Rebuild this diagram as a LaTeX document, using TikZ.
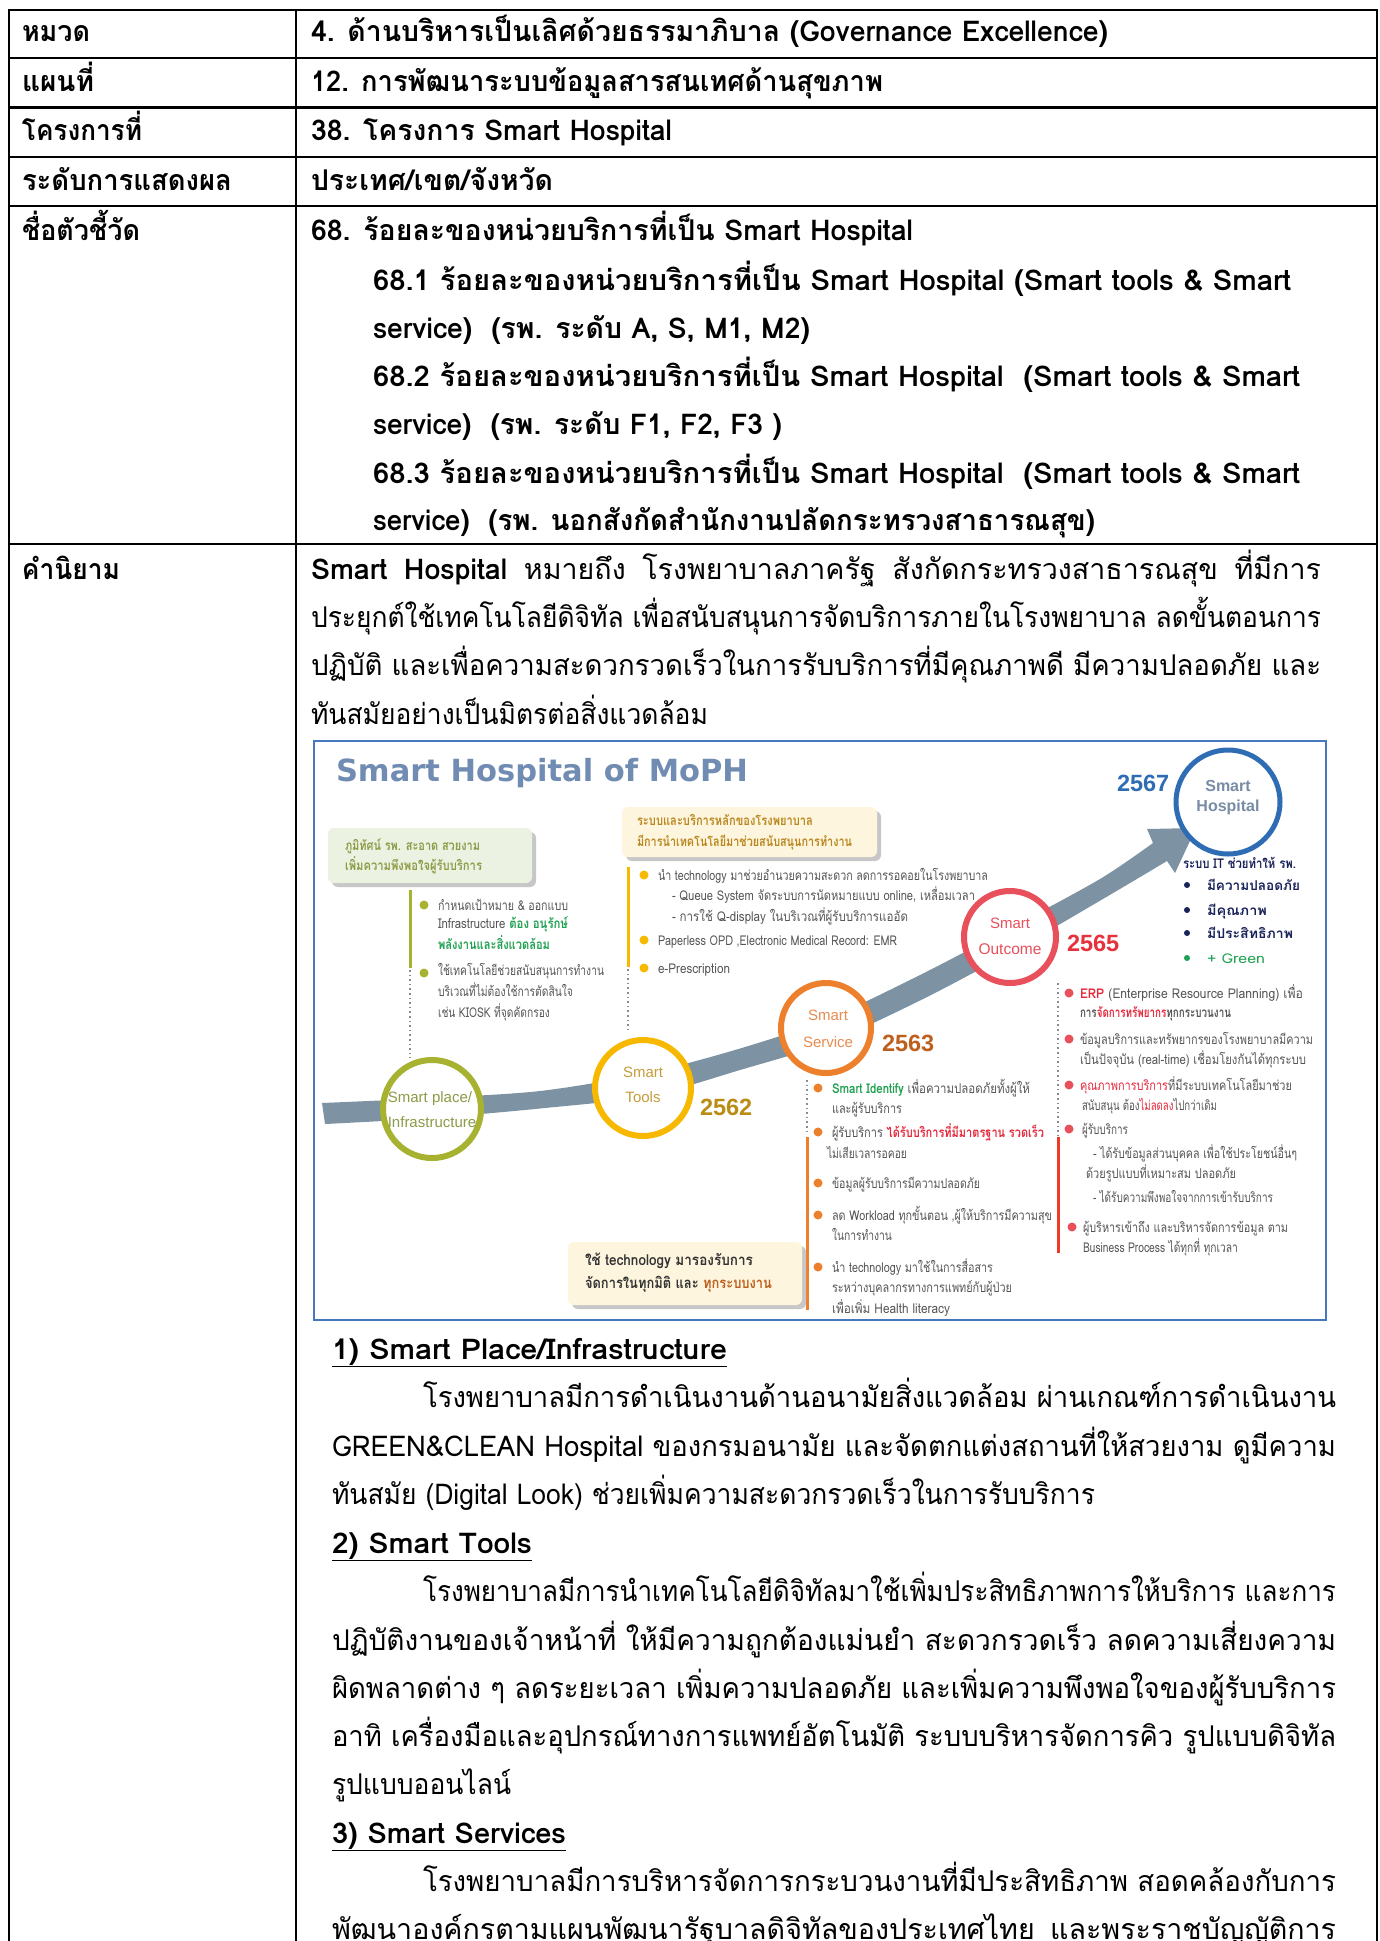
\documentclass[tikz,border=0pt]{standalone}
\usepackage{fontspec}
\usepackage{graphicx}
\setmainfont[Script=Thai]{Loma}
\newfontfamily\latf{Liberation Sans}
\newfontfamily\titf{DejaVu Sans}
\definecolor{olivering}{RGB}{166,178,48}
\definecolor{olivetxt}{RGB}{140,155,70}
\definecolor{greenbox}{RGB}{236,242,226}
\definecolor{yellowbox}{RGB}{253,245,222}
\definecolor{goldring}{RGB}{247,184,0}
\definecolor{goldtxt}{RGB}{196,158,60}
\definecolor{goldbox}{RGB}{185,135,30}
\definecolor{yrtools}{RGB}{185,140,20}
\definecolor{orring}{RGB}{236,128,44}
\definecolor{ortxt}{RGB}{232,140,80}
\definecolor{yrserv}{RGB}{190,95,30}
\definecolor{redring}{RGB}{232,80,92}
\definecolor{yrout}{RGB}{230,50,60}
\definecolor{redline}{RGB}{236,60,40}
\definecolor{blring}{RGB}{46,109,180}
\definecolor{hosptxt}{RGB}{120,140,165}
\definecolor{bandc}{RGB}{125,146,162}
\definecolor{igray}{RGB}{85,85,85}
\definecolor{ired}{RGB}{230,40,60}
\definecolor{igreen}{RGB}{30,160,80}
\definecolor{navy}{RGB}{25,35,90}
\definecolor{titleblue}{RGB}{112,140,178}
\definecolor{boxblue}{RGB}{70,120,190}
\newcommand\mfs{\fontsize{28.6}{31}\selectfont}
\newcommand\ifs{\fontsize{13.5}{15}\selectfont}
% fixed width (horizontal scaling only)
\newcommand\fw[2]{\resizebox{#1pt}{\height}{#2}}
% justified line: stretch spaces, or compress if too long
\newsavebox\linebx
\newcommand\jl[2]{\sbox\linebx{#2}\ifdim\wd\linebx>#1pt\relax\resizebox{#1pt}{\height}{\usebox\linebx}\else\makebox[#1pt][s]{#2}\fi}
\begin{document}
\begin{tikzpicture}[x=1pt,y=-1pt,
  tx/.style={anchor=base west,inner sep=0pt,outer sep=0pt},
  txc/.style={anchor=base,inner sep=0pt,outer sep=0pt},
  mt/.style={tx,font=\mfs},
  mb/.style={tx,font=\mfs\bfseries},
  it/.style={tx,font=\ifs,text=igray},
  tbl/.style={line width=2.4pt,black},
  dotl/.style={line width=1.6pt,black!45,dash pattern=on 1.6pt off 3pt},
  ring/.style={circle,fill=white,line width=6pt,inner sep=0pt},
  clab/.style={txc,font=\latf\fontsize{15}{15}\selectfont},
  yr/.style={tx,font=\latf\bfseries\fontsize{23.5}{24}\selectfont}]
\useasboundingbox (0,0) rectangle (1380,1941);
\fill[white] (0,0) rectangle (1380,1941);
\clip (0,0) rectangle (1380,1941);
% ---------- table ----------
\draw[tbl] (9,10) -- (1377,10);
\draw[tbl] (9,58) -- (1377,58);
\draw[tbl] (9,107.5) -- (1377,107.5);
\draw[tbl] (9,157) -- (1377,157);
\draw[tbl] (9,206) -- (1377,206);
\draw[tbl] (9,544) -- (1377,544);
\draw[tbl] (9,9) -- (9,1945);
\draw[tbl] (296,9) -- (296,1945);
\draw[tbl] (1377,9) -- (1377,1945);
% left column
\node[mb] (l1) at (22,41) {\fw{68}{หมวด}};
\node[mb] (l2) at (22,91) {\fw{72}{แผนที่}};
\node[mb] (l3) at (22,140) {\fw{120}{โครงการที่}};
\node[mb] (l4) at (22,190) {\fw{210}{ระดับการแสดงผล}};
\node[mb] (l5) at (22,240) {\fw{118}{ชื่อตัวชี้วัด}};
\node[mb] (l6) at (22,579) {\fw{98}{คำนิยาม}};
% right column rows
\node[mb] (r1) at (311,41) {\fw{797}{4. ด้านบริหารเป็นเลิศด้วยธรรมาภิบาล (Governance Excellence)}};
\node[mb] (r2) at (311,91) {\fw{572}{12. การพัฒนาระบบข้อมูลสารสนเทศด้านสุขภาพ}};
\node[mb] (r3) at (311,140) {\fw{361}{38. โครงการ Smart Hospital}};
\node[mb] (r4) at (311,190) {\fw{242}{ประเทศ/เขต/จังหวัด}};
\node[mb] (r5a) at (311,240) {\fw{602}{68. ร้อยละของหน่วยบริการที่เป็น Smart Hospital}};
\node[mb] (r5b) at (373,290) {\fw{918}{68.1 ร้อยละของหน่วยบริการที่เป็น Smart Hospital (Smart tools \& Smart}};
\node[mb] (r5c) at (373,338) {\fw{437}{service)~ (รพ. ระดับ A, S, M1, M2)}};
\node[mb] (r5d) at (373,386) {\fw{927}{68.2 ร้อยละของหน่วยบริการที่เป็น Smart Hospital~ (Smart tools \& Smart}};
\node[mb] (r5e) at (373,434) {\fw{409}{service)~ (รพ. ระดับ F1, F2, F3 )}};
\node[mb] (r5f) at (373,483) {\fw{927}{68.3 ร้อยละของหน่วยบริการที่เป็น Smart Hospital~ (Smart tools \& Smart}};
\node[mb] (r5g) at (373,530) {\fw{722}{service)~ (รพ. นอกสังกัดสำนักงานปลัดกระทรวงสาธารณสุข)}};
% definition
\node[mt] (d1) at (311,579) {\jl{1010}{\textbf{Smart Hospital} หมายถึง โรงพยาบาลภาครัฐ สังกัดกระทรวงสาธารณสุข ที่มีการ}};
\node[mt] (d2) at (311,627) {\jl{1010}{ประยุกต์ใช้เทคโนโลยีดิจิทัล เพื่อสนับสนุนการจัดบริการภายในโรงพยาบาล ลดขั้นตอนการ}};
\node[mt] (d3) at (311,675) {\jl{1010}{ปฏิบัติ และเพื่อความสะดวกรวดเร็วในการรับบริการที่มีคุณภาพดี มีความปลอดภัย และ}};
\node[mt] (d4) at (311,724) {\fw{397}{ทันสมัยอย่างเป็นมิตรต่อสิ่งแวดล้อม}};
% ---------- infographic ----------
\draw[boxblue,line width=2.2pt] (314,741) rectangle (1326,1320);
\node[tx,font=\titf\bfseries\fontsize{30.5}{31}\selectfont,text=titleblue] (title) at (336,781) {\fw{412}{Smart Hospital of MoPH}};
% band with arrow
\fill[bandc] plot[smooth] coordinates {(322,1103) (432,1098) (540,1091) (643,1074) (735,1050) (825,1020) (920,975) (1010,928) (1100,879) (1153,843)}
  -- (1147,829) -- (1196,828) -- (1175,873) -- (1167,861)
  -- plot[smooth] coordinates {(1167,861) (1108,896) (1015,950) (925,998) (830,1042) (740,1070) (648,1096) (545,1108) (432,1118) (325,1124)} -- cycle;
% circles
\node[ring,draw=olivering,minimum size=98pt] (cplace) at (432,1109) {};
\node[ring,draw=goldring,minimum size=96pt] (ctools) at (643,1088) {};
\node[ring,draw=orring,minimum size=90pt] (cserv) at (826,1028) {};
\node[ring,draw=redring,minimum size=92pt] (cout) at (1010,937) {};
\node[ring,draw=blring,line width=5pt,minimum size=104pt] (chosp) at (1228,802) {};
\node[clab,text=olivetxt] (lp1) at (430,1102) {Smart place/};
\node[clab,text=olivetxt] (lp2) at (432,1127) {Infrastructure};
\node[clab,text=goldtxt] (lt1) at (643,1077) {Smart};
\node[clab,text=goldtxt] (lt2) at (643,1102) {Tools};
\node[clab,text=ortxt] (ls1) at (828,1020) {Smart};
\node[clab,text=ortxt] (ls2) at (828,1047) {Service};
\node[clab,text=redring] (lo1) at (1010,928) {Smart};
\node[clab,text=redring,font=\latf\fontsize{15.5}{16}\selectfont] (lo2) at (1010,954) {Outcome};
\node[clab,text=hosptxt,font=\latf\bfseries\fontsize{16}{16}\selectfont] (lh1) at (1228,791) {Smart};
\node[clab,text=hosptxt,font=\latf\bfseries\fontsize{16}{16}\selectfont] (lh2) at (1228,811) {Hospital};
\node[yr,text=yrtools] (y62) at (700,1115) {2562};
\node[yr,text=yrserv] (y63) at (882,1051) {2563};
\node[yr,text=yrout] (y65) at (1067,951) {2565};
\node[yr,text=blring] (y67) at (1117,791) {2567};
% green box (place)
\fill[black!22,rounded corners=6pt] (332,832) rectangle (536,887);
\fill[greenbox,rounded corners=6pt] (328,828) rectangle (532,883);
\node[tx,font=\ifs\bfseries,text=olivetxt] (g1) at (345,850) {\fw{135}{ภูมิทัศน์ รพ. สะอาด สวยงาม}};
\node[tx,font=\ifs\bfseries,text=olivetxt] (g2) at (345,870) {\fw{137}{เพิ่มความพึงพอใจผู้รับบริการ}};
\draw[line width=3pt,olivering] (410,890) -- (410,968);
\draw[dotl] (410,970) -- (410,1058);
\fill[olivering] (424,905) circle (4.5);
\fill[olivering] (424,973) circle (4.5);
\node[it] (p1) at (438,910) {\fw{130}{กำหนดเป้าหมาย \& ออกแบบ}};
\node[it] (p2) at (438,928) {\fw{130}{Infrastructure \textcolor{igreen}{\bfseries ต้อง อนุรักษ์}}};
\node[it,text=igreen,font=\ifs\bfseries] (p3) at (438,949) {\fw{112}{พลังงานและสิ่งแวดล้อม}};
\node[it] (p4) at (438,975) {\fw{166}{ใช้เทคโนโลยีช่วยสนับสนุนการทำงาน}};
\node[it] (p5) at (438,996) {\fw{135}{บริเวณที่ไม่ต้องใช้การตัดสินใจ}};
\node[it] (p6) at (438,1017) {\fw{112}{เช่น KIOSK ที่จุดคัดกรอง}};
% yellow box (tools)
\fill[black!22,rounded corners=6pt] (626,811) rectangle (881,861);
\fill[yellowbox,rounded corners=6pt] (622,807) rectangle (877,857);
\node[tx,font=\ifs\bfseries,text=goldbox] (y1) at (637,825) {\fw{176}{ระบบและบริการหลักของโรงพยาบาล}};
\node[tx,font=\ifs\bfseries,text=goldbox] (y2) at (637,846) {\fw{215}{มีการนำเทคโนโลยีมาช่วยสนับสนุนการทำงาน}};
\draw[line width=3pt,goldring] (628,867) -- (628,967);
\draw[dotl] (628,969) -- (628,1033);
\fill[goldring] (644,875) circle (4.5);
\fill[goldring] (644,940) circle (4.5);
\fill[goldring] (644,968) circle (4.5);
\node[it] (t1) at (658,880) {\fw{330}{นำ technology มาช่วยอำนวยความสะดวก ลดการรอคอยในโรงพยาบาล}};
\node[it] (t2) at (672,900) {\fw{303}{- Queue System จัดระบบการนัดหมายแบบ online, เหลื่อมเวลา}};
\node[it] (t3) at (672,921) {\fw{236}{- การใช้ Q-display ในบริเวณที่ผู้รับบริการแออัด}};
\node[it] (t4) at (658,945) {\fw{239}{Paperless OPD ,Electronic Medical Record: EMR}};
\node[it] (t5) at (658,973) {\fw{72}{e-Prescription}};
% service column
\draw[dotl] (807,1080) -- (807,1135);
\draw[line width=3pt,orring] (807,1137) -- (807,1310);
\fill[orring] (818,1088) circle (4.5);
\fill[orring] (818,1132) circle (4.5);
\fill[orring] (818,1183) circle (4.5);
\fill[orring] (818,1215) circle (4.5);
\fill[orring] (818,1267) circle (4.5);
\node[it] (s1) at (832,1093) {\fw{198}{\textcolor{igreen}{\bfseries Smart Identify} เพื่อความปลอดภัยทั้งผู้ให้}};
\node[it] (s2) at (832,1113) {\fw{70}{และผู้รับบริการ}};
\node[it] (s3) at (832,1137) {\fw{212}{ผู้รับบริการ \textcolor{ired}{\bfseries ได้รับบริการที่มีมาตรฐาน รวดเร็ว}}};
\node[it] (s4) at (827,1158) {\fw{80}{ไม่เสียเวลารอคอย}};
\node[it] (s5) at (832,1188) {\fw{148}{ข้อมูลผู้รับบริการมีความปลอดภัย}};
\node[it] (s6) at (832,1220) {\fw{220}{ลด Workload ทุกขั้นตอน ,ผู้ให้บริการมีความสุข}};
\node[it] (s7) at (832,1240) {\fw{60}{ในการทำงาน}};
\node[it] (s8) at (832,1272) {\fw{161}{นำ technology มาใช้ในการสื่อสาร}};
\node[it] (s9) at (832,1292) {\fw{180}{ระหว่างบุคลากรทางการแพทย์กับผู้ป่วย}};
\node[it] (s10) at (832,1313) {\fw{118}{เพื่อเพิ่ม Health literacy}};
% bottom box
\fill[black!22,rounded corners=6pt] (572,1246) rectangle (806,1309);
\fill[yellowbox,rounded corners=6pt] (568,1242) rectangle (802,1305);
\node[tx,font=\fontsize{15}{16}\selectfont\bfseries,text=black!80] (bb1) at (585,1265) {\fw{168}{ใช้ technology มารองรับการ}};
\node[tx,font=\fontsize{15}{16}\selectfont\bfseries,text=black!80] (bb2) at (585,1288) {\fw{187}{จัดการในทุกมิติ และ \textcolor{yrserv}{ทุกระบบงาน}}};
% outcome column
\draw[dotl] (1058,983) -- (1058,1135);
\draw[line width=3pt,redline] (1058,1137) -- (1058,1253);
\fill[redring] (1069,993) circle (4.5);
\fill[redring] (1069,1039) circle (4.5);
\fill[redring] (1069,1085) circle (4.5);
\fill[redring] (1069,1129) circle (4.5);
\fill[redring] (1072,1227) circle (4.5);
\node[it] (o1) at (1080,998) {\fw{223}{\textcolor{ired}{\bfseries ERP} (Enterprise Resource Planning) เพื่อ}};
\node[it,font=\ifs\bfseries] (o2) at (1080,1017) {\fw{151}{การ\textcolor{ired}{จัดการทรัพยากร}ทุกกระบวนงาน}};
\node[it] (o3) at (1080,1044) {\fw{233}{ข้อมูลบริการและทรัพยากรของโรงพยาบาลมีความ}};
\node[it] (o4) at (1080,1064) {\fw{226}{เป็นปัจจุบัน (real-time) เชื่อมโยงกันได้ทุกระบบ}};
\node[it] (o5) at (1080,1090) {\fw{212}{\textcolor{ired}{คุณภาพการบริการ}ที่มีระบบเทคโนโลยีมาช่วย}};
\node[it] (o6) at (1082,1110) {\fw{135}{สนับสนุน ต้อง\textcolor{ired}{ไม่ลดลง}ไปกว่าเดิม}};
\node[it] (o7) at (1082,1134) {\fw{46}{ผู้รับบริการ}};
\node[it] (o8) at (1093,1158) {\fw{204}{- ได้รับข้อมูลส่วนบุคคล เพื่อใช้ประโยชน์อื่นๆ}};
\node[it] (o9) at (1086,1178) {\fw{150}{ด้วยรูปแบบที่เหมาะสม ปลอดภัย}};
\node[it] (o10) at (1093,1202) {\fw{180}{- ได้รับความพึงพอใจจากการเข้ารับบริการ}};
\node[it] (o11) at (1083,1232) {\fw{205}{ผู้บริหารเข้าถึง และบริหารจัดการข้อมูล ตาม}};
\node[it] (o12) at (1083,1252) {\fw{155}{Business Process ได้ทุกที่ ทุกเวลา}};
% IT column
\node[tx,font=\ifs\bfseries,text=navy] (h0) at (1183,868) {\fw{113}{ระบบ IT ช่วยทำให้ รพ.}};
\fill[navy] (1187,885) circle (3);
\fill[navy] (1187,910) circle (3);
\fill[navy] (1187,933) circle (3);
\fill[igreen] (1187,958) circle (3);
\node[tx,font=\ifs\bfseries,text=navy] (h1) at (1207,890) {\fw{93}{มีความปลอดภัย}};
\node[tx,font=\ifs\bfseries,text=navy] (h2) at (1207,915) {\fw{60}{มีคุณภาพ}};
\node[tx,font=\ifs\bfseries,text=navy] (h3) at (1207,938) {\fw{86}{มีประสิทธิภาพ}};
\node[tx,font=\ifs,text=igreen] (h4) at (1207,963) {\fw{58}{+ Green}};
% ---------- sections ----------
\node[mb] (sec1) at (332,1359) {\fw{395}{\underline{1) Smart Place/Infrastructure}}};
\node[mt] (a1) at (423,1407) {\jl{913}{โรงพยาบาลมีการดำเนินงานด้านอนามัยสิ่งแวดล้อม ผ่านเกณฑ์การดำเนินงาน}};
\node[mt] (a2) at (332,1456) {\jl{1004}{GREEN\&CLEAN Hospital ของกรมอนามัย และจัดตกแต่งสถานที่ให้สวยงาม ดูมีความ}};
\node[mt] (a3) at (332,1504) {\fw{763}{ทันสมัย (Digital Look) ช่วยเพิ่มความสะดวกรวดเร็วในการรับบริการ}};
\node[mb] (sec2) at (332,1553) {\fw{200}{\underline{2) Smart Tools}}};
\node[mt] (b1x) at (423,1601) {\jl{913}{โรงพยาบาลมีการนำเทคโนโลยีดิจิทัลมาใช้เพิ่มประสิทธิภาพการให้บริการ และการ}};
\node[mt] (b2x) at (332,1650) {\jl{1004}{ปฏิบัติงานของเจ้าหน้าที่ ให้มีความถูกต้องแม่นยำ สะดวกรวดเร็ว ลดความเสี่ยงความ}};
\node[mt] (b3x) at (332,1698) {\jl{1004}{ผิดพลาดต่าง ๆ ลดระยะเวลา เพิ่มความปลอดภัย และเพิ่มความพึงพอใจของผู้รับบริการ}};
\node[mt] (b4x) at (332,1746) {\jl{1004}{อาทิ เครื่องมือและอุปกรณ์ทางการแพทย์อัตโนมัติ ระบบบริหารจัดการคิว รูปแบบดิจิทัล}};
\node[mt] (b5x) at (332,1794) {\fw{179}{รูปแบบออนไลน์}};
\node[mb] (sec3) at (332,1843) {\fw{234}{\underline{3) Smart Services}}};
\node[mt] (c1x) at (423,1891) {\jl{913}{โรงพยาบาลมีการบริหารจัดการกระบวนงานที่มีประสิทธิภาพ สอดคล้องกับการ}};
\node[mt] (c2x) at (332,1939) {\jl{1004}{พัฒนาองค์กรตามแผนพัฒนารัฐบาลดิจิทัลของประเทศไทย และพระราชบัญญัติการ}};
\end{tikzpicture}
\end{document}
